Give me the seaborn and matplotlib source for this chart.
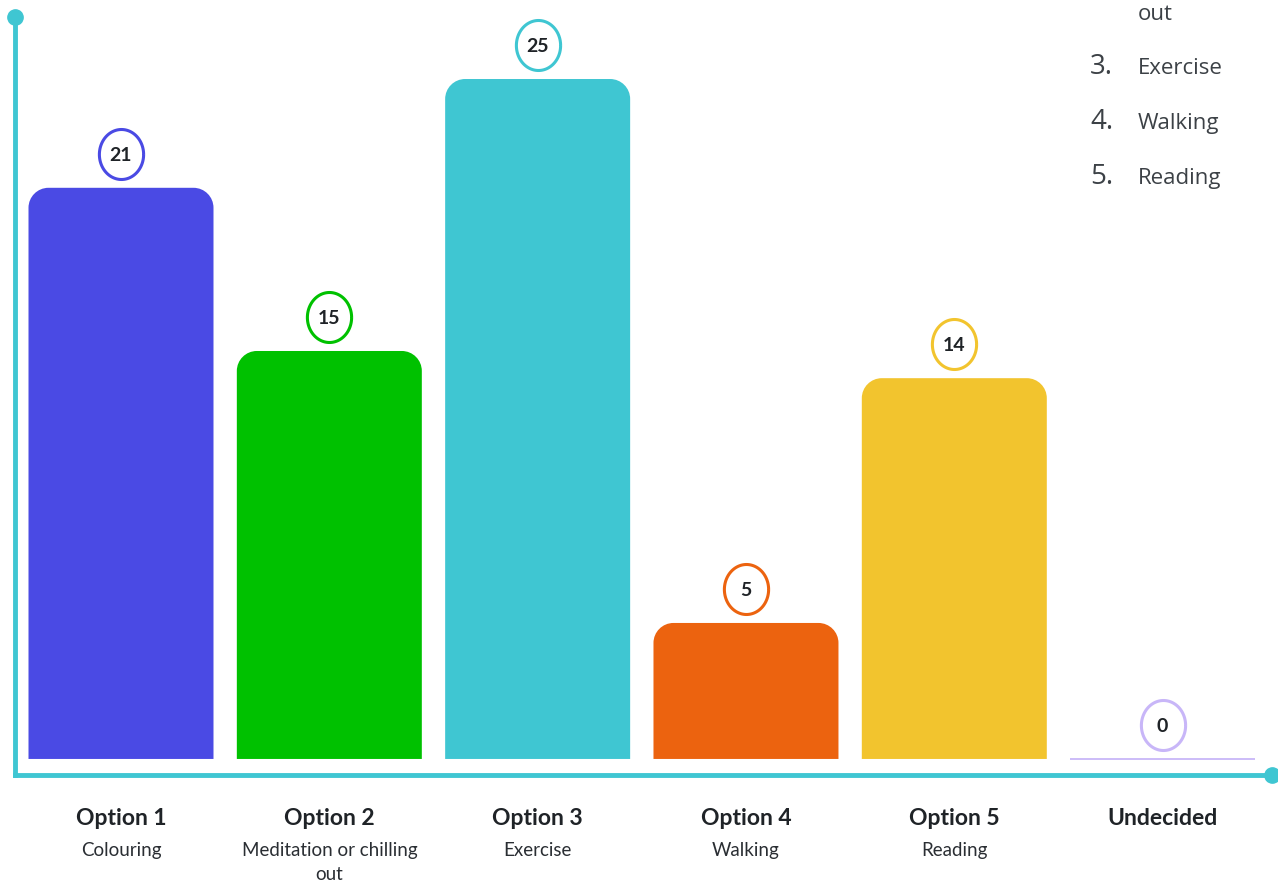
import matplotlib
matplotlib.use("Agg")
import matplotlib.pyplot as plt
import seaborn as sns
import pandas as pd
import numpy as np
from matplotlib.path import Path
from matplotlib.patches import PathPatch

# ---- data ----
categories = ["Option 1", "Option 2", "Option 3", "Option 4", "Option 5", "Undecided"]
subtitles = ["Colouring", "Meditation or chilling\nout", "Exercise", "Walking", "Reading", ""]
values = [21, 15, 25, 5, 14, 0]
bar_colors = ["#4a4ae4", "#00c100", "#3fc6d2", "#ec630f", "#f2c42e", "#c8b6f8"]
list_numbers = ["3.", "4.", "5."]
list_items = ["Exercise", "Walking", "Reading"]
list_overflow = "out"

axis_color = "#3fc6d2"
text_dark = "#1f2327"

sns.set_style("white")
plt.rcParams["font.family"] = ["Lato", "DejaVu Sans"]

fig = plt.figure(figsize=(12.78, 8.82), dpi=100)
ax = fig.add_axes([15 / 1278, 107 / 882, 1257 / 1278, 758 / 882])

df = pd.DataFrame({"cat": categories, "val": values})
sns.barplot(data=df, x="cat", y="val", hue="cat", palette=bar_colors,
            saturation=1, width=0.888, legend=False, ax=ax)

ax.set_xlim(-0.5088, 5.525)
ax.set_ylim(-0.59, 27.28)

# rounded-top bars
rx = 20 / 208.33
ry = 20 / 27.2
k = 0.5523
for p, col in zip(list(ax.patches), bar_colors):
    x0 = p.get_x()
    w = p.get_width()
    h = p.get_height()
    x1 = x0 + w
    if h > 0:
        r_y = min(ry, h)
        verts = [(x0, 0), (x0, h - r_y),
                 (x0, h - r_y + k * r_y), (x0 + rx - k * rx, h), (x0 + rx, h),
                 (x1 - rx, h),
                 (x1 - rx + k * rx, h), (x1, h - r_y + k * r_y), (x1, h - r_y),
                 (x1, 0), (x0, 0)]
        codes = [Path.MOVETO, Path.LINETO,
                 Path.CURVE4, Path.CURVE4, Path.CURVE4,
                 Path.LINETO,
                 Path.CURVE4, Path.CURVE4, Path.CURVE4,
                 Path.LINETO, Path.CLOSEPOLY]
        ax.add_patch(PathPatch(Path(verts, codes), facecolor=col, edgecolor="none", zorder=2))
        p.set_visible(False)
    else:
        p.set_edgecolor(col)
        p.set_linewidth(1.3)

# value badges (ellipses)
theta = np.linspace(0, 2 * np.pi, 100)
ell_marker = Path(np.column_stack([46 * np.cos(theta), 52 * np.sin(theta)]))
label_gap = 34 / 27.2
for i, (v, col) in enumerate(zip(values, bar_colors)):
    ax.plot([i], [v + label_gap], marker=ell_marker, ms=36, mfc="white",
            mec=col, mew=2.2, ls="none", zorder=4, clip_on=False)
    ax.text(i, v + label_gap, str(v), ha="center", va="center_baseline",
            fontsize=14, fontweight="bold", color=text_dark, zorder=5)

# category labels
ax.tick_params(axis="both", length=0, labelbottom=False, labelleft=False)
ax.set_xlabel("")
ax.set_ylabel("")
for i, (c, s) in enumerate(zip(categories, subtitles)):
    ax.annotate(c, xy=(i, 0), xycoords=("data", "axes fraction"),
                xytext=(0, -36), textcoords="offset points",
                ha="center", va="baseline", fontsize=16.5, fontweight="bold",
                color=text_dark, annotation_clip=False)
    for j, line in enumerate(s.split("\n") if s else []):
        ax.annotate(line, xy=(i, 0), xycoords=("data", "axes fraction"),
                    xytext=(0, -58.3 - 17.5 * j), textcoords="offset points",
                    ha="center", va="baseline", fontsize=13.5,
                    color="#2a2e33", annotation_clip=False)

# axis lines with end dots
for side in ["top", "right"]:
    ax.spines[side].set_visible(False)
for side in ["left", "bottom"]:
    ax.spines[side].set_color(axis_color)
    ax.spines[side].set_linewidth(3.5)
ax.plot([0], [1], "o", color=axis_color, ms=11, transform=ax.transAxes, clip_on=False, zorder=6)
ax.plot([1], [0], "o", color=axis_color, ms=11, transform=ax.transAxes, clip_on=False, zorder=6)

# overflowing list text at top right
list_color = "#3c4146"
fig.text(1138 / 1278, 1 - 20 / 882, list_overflow, ha="left", va="baseline",
         fontsize=16, color=list_color, family=["Open Sans", "DejaVu Sans"])
for j, (n, t) in enumerate(zip(list_numbers, list_items)):
    yb = 1 - (74 + 55 * j) / 882
    fig.text(1090 / 1278, yb, n, ha="left", va="baseline", fontsize=20,
             color=list_color, family=["Open Sans", "DejaVu Sans"])
    fig.text(1138 / 1278, yb, t, ha="left", va="baseline", fontsize=16,
             color=list_color, family=["Open Sans", "DejaVu Sans"])

fig.savefig("out.png", dpi=100)
